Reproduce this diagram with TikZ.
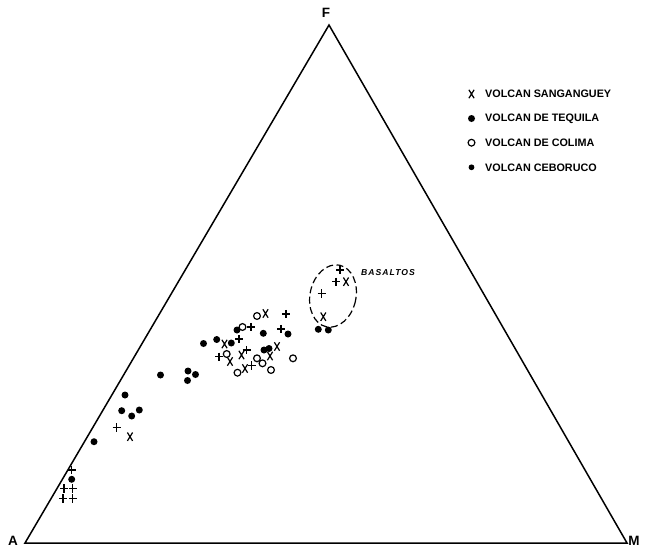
\documentclass[tikz,border=0pt]{standalone}
\usepackage{fontspec}
\setmainfont{Liberation Sans}
\begin{document}
\begin{tikzpicture}[x=1pt,y=-1pt,
  edge/.style={line width=1.5pt, line join=miter},
  vlabel/.style={font=\fontsize{13.5}{14}\selectfont\bfseries, inner sep=0pt},
  legtext/.style={font=\fontsize{10.8}{11}\selectfont\bfseries, anchor=west, inner sep=0pt},
  plusm/.pic={\draw[line width=1.2pt] (-4,0)--(4,0) (0,-4.2)--(0,4.2);},
  xm/.pic={\draw[line width=1.2pt] (-2.6,-4.2)--(2.6,4.2) (-2.6,4.2)--(2.6,-4.2);},
  dotm/.pic={\fill (0,0) circle (3.5);},
  sdotm/.pic={\fill (0,0) circle (2.9);},
  circm/.pic={\draw[line width=1.2pt] (0,0) circle (3.4);}
]
\useasboundingbox (0,0) rectangle (646,550);
\fill[white] (0,0) rectangle (646,550);

% triangle
\coordinate (A) at (25,543);
\coordinate (F) at (329,25);
\coordinate (M) at (627,543);
\draw[edge] (A) -- (F) -- (M) -- cycle;
\node[vlabel] (lA) at (13,541) {A};
\node[vlabel] (lF) at (326,13) {F};
\node[vlabel] (lM) at (634,541) {M};

% legend
\pic at (471.5,94) {xm};
\pic at (471.5,118.5) {dotm};
\pic at (471.5,142.7) {circm};
\pic at (471.5,167.3) {sdotm};
\node[legtext] (l1) at (485,94) {VOLCAN SANGANGUEY};
\node[legtext] (l2) at (485,118.5) {VOLCAN DE TEQUILA};
\node[legtext] (l3) at (485,142.7) {VOLCAN DE COLIMA};
\node[legtext] (l4) at (485,167.3) {VOLCAN CEBORUCO};

% basalt field
\draw[line width=1.2pt, dash pattern=on 7pt off 3.5pt] (333,296) ellipse [x radius=23, y radius=31.5, rotate=-12];
\node[font=\fontsize{8.6}{9}\selectfont\bfseries\itshape\addfontfeature{LetterSpace=12}, anchor=west, inner sep=0pt] (bas) at (361,273) {BASALTOS};

% Sanganguey
\foreach \p in {(224.5,344),(230,361.5),(241.5,355),(245,368.5),(265.5,313.5),(270,356),(277,346.5),(346,281.7),(323.3,316.7),(130,436.7)}
  \pic at \p {xm};

% Tequila / Ceboruco dots
\foreach \p in {(203.5,343.5),(216.7,339.5),(231.3,343),(237,330),(263.3,333.3),(288,334),(264,350),(269,348.5),(160.5,375),(188,371),(195.5,374.5),(187.5,380.5),(125,395),(121.7,410.7),(131.7,416),(139.3,410),(94,441.7),(318.3,329.3),(328.3,330),(71.7,479.3)}
  \pic at \p {dotm};

% Colima
\foreach \p in {(242.5,327),(257,316),(226.7,354),(237.5,372.7),(257,358.3),(262.5,363.3),(271,370),(293,358.3)}
  \pic at \p {circm};

% plus
\foreach \p in {(251,327),(239,339),(286,314),(281,329),(219,356.7),(246.7,350),(251.7,365.5),(340,270),(336,281.7),(321.7,293.3),(116.7,427.3),(71.7,470),(64,488.3),(72.7,488.3),(63,498.3),(72.7,498.3)}
  \pic at \p {plusm};
\end{tikzpicture}
\end{document}
